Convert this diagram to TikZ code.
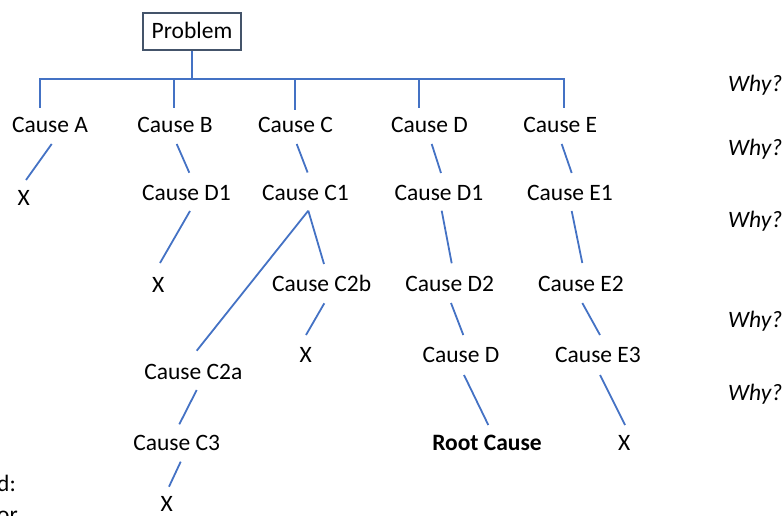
\documentclass[tikz,border=0pt]{standalone}
\usepackage{fontspec}
\setmainfont{Carlito}
\usetikzlibrary{calc}

\definecolor{linkblue}{RGB}{68,114,196}
\definecolor{boxedge}{RGB}{68,84,106}

% connector: source node, offset from its centre, target node, offset from its centre
\newcommand\tiedown[6]{\draw[link] ($(#1.center)+(#2,#3)$) -- ($(#4.center)+(#5,#6)$);}

\begin{document}
\begin{tikzpicture}[x=1pt,y=-1pt,
  lbl/.style={inner sep=0pt, text height=15pt, text depth=0pt,
              font=\fontsize{23.5}{28}\selectfont},
  why/.style={lbl, anchor=west, font=\fontsize{23.5}{28}\selectfont\itshape},
  probbox/.style={lbl, draw=boxedge, line width=1.4pt, minimum width=98pt, minimum height=37pt},
  link/.style={draw=linkblue, line width=1.8pt},
  note/.style={inner sep=0pt, anchor=base east, font=\fontsize{23.5}{28}\selectfont}]
\useasboundingbox (0,0) rectangle (784,516);
\clip (0,0) rectangle (784,516);

% root problem
\node[probbox] (prob) at (192,31.5) {Problem};

% first level
\node[lbl] (ca) at (50,125) {Cause A};
\node[lbl] (cb) at (175,125) {Cause B};
\node[lbl] (cc) at (295.5,125) {Cause C};
\node[lbl] (cd) at (429.5,125) {Cause D};
\node[lbl] (ce) at (560.3,125) {Cause E};

% second level
\node[lbl] (xa) at (23.7,198) {X};
\node[lbl] (cdone) at (186.5,192.5) {Cause D1};
\node[lbl] (ccone) at (305.5,192.5) {Cause C1};
\node[lbl] (cdtwo) at (439,193) {Cause D1};
\node[lbl] (ceone) at (570,193) {Cause E1};

% third level
\node[lbl] (xb) at (158.3,285) {X};
\node[lbl] (cctwob) at (321.7,284) {Cause C2b};
\node[lbl] (cdd) at (449.7,284) {Cause D2};
\node[lbl] (cetwo) at (581,284) {Cause E2};

% fourth level
\node[lbl] (cctwoa) at (193.3,371.7) {Cause C2a};
\node[lbl] (xcb) at (305.7,355) {X};
\node[lbl] (cdlast) at (461,355) {Cause D};
\node[lbl] (cethree) at (598,355) {Cause E3};

% fifth level
\node[lbl] (ccthree) at (176.7,443) {Cause C3};
\node[lbl, font=\fontsize{23.5}{28}\selectfont\bfseries] (root) at (487,443) {Root Cause};
\node[lbl] (xe) at (624.3,443) {X};
\node[lbl] (xc) at (166.7,504) {X};

% question column
\node[why] (wa) at (728,84.5) {Why?};
\node[why] (wb) at (728,148) {Why?};
\node[why] (wc) at (728,219.5) {Why?};
\node[why] (wd) at (728,320) {Why?};
\node[why] (we) at (728,393) {Why?};

% notes at the lower left edge
\node[note] (nd) at (16,491.7) {d:};
\node[note] (nor) at (18,522) {or};

% bracket from the problem to the first level
\draw[link] (prob.south) -- ++(0,29);
\draw[link] ($(ca.center)+(-10,-17)$) -- ++(0,-29) -| ($(ce.center)+(3.7,-17)$);
\draw[link] ($(cb.center)+(-1,-17)$) -- ++(0,-29);
\draw[link] ($(cc.center)+(-0.5,-15)$) -- ++(0,-31);
\draw[link] ($(cd.center)+(-10.5,-17)$) -- ++(0,-29);

% cause chains
\tiedown{ca}{1.7}{19}{xa}{2.3}{-18}
\tiedown{cb}{1.7}{19}{cdone}{2.8}{-19.8}
\tiedown{cc}{1.2}{19}{ccone}{2.1}{-20}
\tiedown{cd}{2.2}{19}{cdtwo}{2}{-20}
\tiedown{ce}{1.4}{19}{ceone}{1.7}{-20}

\tiedown{cdone}{3.5}{18.5}{xb}{1.7}{-22}
\tiedown{ccone}{2.8}{18.2}{cctwob}{2.3}{-20}
\tiedown{ccone}{2.8}{18.2}{cctwoa}{3.4}{-21}
\tiedown{cdtwo}{2.7}{17.7}{cdd}{2}{-20.7}
\tiedown{ceone}{1.7}{18}{cetwo}{1.3}{-21}

\tiedown{cctwob}{2.6}{19.3}{xcb}{0.3}{-20}
\tiedown{cdd}{1.3}{19}{cdlast}{2.3}{-20}
\tiedown{cetwo}{1.3}{19}{cethree}{2}{-20}

\tiedown{cdlast}{3}{20}{root}{1.3}{-18}
\tiedown{cethree}{2}{20}{xe}{0.7}{-18}
\tiedown{cctwoa}{3.4}{18.3}{ccthree}{2.6}{-18.7}
\tiedown{ccthree}{4}{18.7}{xc}{2.3}{-17.3}
\end{tikzpicture}
\end{document}
